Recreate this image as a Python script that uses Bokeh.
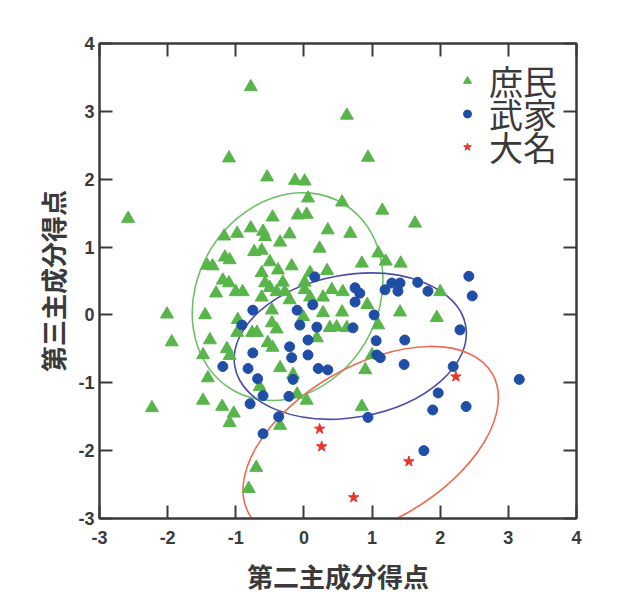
import math
from bokeh.plotting import figure
from bokeh.models import (Range1d, FixedTicker, LinearAxis, Legend, LegendItem,
                          CustomJSTickFormatter)
from bokeh.embed import file_html
from bokeh.resources import INLINE

# ---- data ----
commoner_x = [-2.58, -0.78, -1.10, -0.54, -0.13, 0.01, 0.06, 0.63, 0.94, 0.56,
              1.15, 1.63, -0.46, -0.09, 0.04, -0.78, -1.17, -0.98, -0.60, -0.57,
              -0.21, -0.35, 0.35, 0.68, 0.23, 1.09, 1.20, 1.42, 0.85, -1.42,
              -1.34, -1.16, -1.09, -0.73, -0.62, -0.50, -0.38, -0.18, -0.62, 0.34,
              0.09, -1.19, -1.10, -1.29, -1.00, -0.90, -0.57, -0.50, -0.40, -0.31,
              -0.62, 0.01, -0.28, 0.41, 0.57, 2.00, 0.93, 0.56, 1.41, 1.95,
              0.48, 0.63, 1.09, 1.00, 0.90, 0.85, -2.01, -1.94, -2.23, -1.45,
              -1.38, -1.48, -1.41, -1.48, -1.20, -1.03, -1.09, -0.97, -0.98, -0.76,
              -0.69, -0.47, -0.40, -0.53, -0.46, -0.35, -0.16, -0.65, 0.04, -0.10,
              -0.35, -0.70, -0.81, 0.01, 0.09, 0.28, -0.21, -0.01, 0.28, 0.38,
              -0.47, 0.19, -1.13, -1.09]
commoner_y = [1.42, 3.36, 2.31, 2.03, 1.98, 1.97, 1.72, 2.94, 2.32, 1.66,
              1.54, 1.35, 1.44, 1.47, 1.48, 1.28, 1.16, 1.20, 1.23, 1.15,
              1.19, 1.07, 1.25, 1.20, 0.98, 0.91, 0.79, 0.76, 0.76, 0.73,
              0.72, 0.85, 0.81, 0.93, 0.95, 0.78, 0.66, 0.72, 0.62, 0.65,
              0.62, 0.51, 0.47, 0.32, 0.34, 0.34, 0.47, 0.40, 0.34, 0.48,
              0.26, 0.37, 0.34, 0.37, 0.34, 0.34, 0.15, 0.04, 0.04, -0.04,
              -0.18, -0.19, -0.15, -0.59, -0.81, -1.35, 0.01, -0.40, -1.37, 0.00,
              -0.37, -0.59, -0.93, -1.26, -1.35, -1.45, -1.59, -0.07, -0.26, -0.26,
              -0.26, -0.12, -0.21, -0.41, -0.48, -0.78, -0.88, -1.06, -1.26, -1.17,
              -1.63, -2.25, -2.56, 0.48, 0.26, 0.26, 0.22, -0.03, 0.03, -0.19,
              0.07, -0.34, -0.50, -0.60]

samurai_x = [0.16, -0.75, -0.91, -0.10, 0.13, -0.06, 0.19, 0.06, -0.21, -0.18,
             -0.75, 0.06, -1.19, -0.82, -0.68, -0.16, 0.21, 0.35, -0.60, -0.79,
             -0.22, -0.37, -0.60, 0.75, 1.03, 0.72, 1.06, 1.07, 1.12, 1.48,
             1.47, 2.29, 2.19, 1.97, 1.89, 2.38, 0.94, 3.16, 1.76, 2.42,
             2.47, 1.67, 1.82, 1.41, 1.29, 1.19, 1.38, 0.75, 0.82]
samurai_y = [0.56, 0.07, -0.15, 0.07, 0.15, -0.15, -0.18, -0.37, -0.47, -0.63,
             -0.56, -0.59, -0.76, -0.79, -0.94, -0.95, -0.79, -0.81, -1.19, -1.31,
             -1.20, -1.50, -1.75, 0.19, 0.00, -0.19, -0.38, -0.59, -0.63, -0.37,
             -0.73, -0.22, -0.76, -1.15, -1.40, -1.35, -1.51, -0.95, -2.00, 0.57,
             0.28, 0.48, 0.35, 0.47, 0.47, 0.37, 0.35, 0.40, 0.32]

daimyo_x = [0.23, 0.26, 0.73, 1.54, 2.23]
daimyo_y = [-1.68, -1.94, -2.69, -2.16, -0.91]

# ellipses: centre, full width/height (data units), angle (degrees)
ell_cx = [-0.24, 0.68, 0.98]
ell_cy = [0.27, -0.46, -1.90]
ell_w = [3.18, 3.44, 4.12]
ell_h = [2.66, 2.10, 2.30]
ell_angle_deg = [59, 10, 30]
ell_color = ["#6cc068", "#4b4ea8", "#ef6a55"]

group_labels = ["庶民", "武家", "大名"]
ticks = [-3, -2, -1, 0, 1, 2, 3, 4]
x_title = "第二主成分得点"
y_title = "第三主成分得点"

GREEN = "#58b54a"
BLUE = "#1f4ea6"
RED = "#e8352b"
AXIS = "#3a3a3a"
CJK = "Noto Sans CJK JP"

p = figure(width=612, height=596, output_backend="svg", toolbar_location=None,
           x_range=Range1d(-3, 4), y_range=Range1d(-3, 4),
           min_border_left=99, min_border_top=43, min_border_right=36,
           min_border_bottom=75, background_fill_color="white",
           border_fill_color="white")
p.grid.visible = False
p.outline_line_color = AXIS
p.outline_line_width = 2

p.ellipse(x=ell_cx, y=ell_cy, width=ell_w, height=ell_h,
          angle=[math.radians(a) for a in ell_angle_deg],
          fill_color=None, line_color=ell_color, line_width=1.6)

r1 = p.scatter(commoner_x, commoner_y, marker="triangle", size=13,
               fill_color=GREEN, line_color=GREEN)
r2 = p.scatter(samurai_x, samurai_y, marker="circle", size=10,
               fill_color=BLUE, line_color=BLUE)
r3 = p.scatter(daimyo_x, daimyo_y, marker="star", size=11,
               fill_color=RED, line_color=RED)

plain = CustomJSTickFormatter(code="return String(tick)")
for ax in (p.xaxis[0], p.yaxis[0]):
    ax.ticker = FixedTicker(ticks=ticks)
    ax.formatter = plain
    ax.minor_tick_line_color = None
    ax.major_tick_in = 13
    ax.major_tick_out = 0
    ax.major_tick_line_width = 2
    ax.major_tick_line_color = AXIS
    ax.axis_line_width = 2
    ax.axis_line_color = AXIS
    ax.major_label_text_font = "Liberation Sans"
    ax.major_label_text_font_size = "18px"
    ax.major_label_text_font_style = "bold"
    ax.major_label_text_color = AXIS
    ax.axis_label_text_font = CJK
    ax.axis_label_text_font_size = "26px"
    ax.axis_label_text_font_style = "bold"
    ax.axis_label_text_color = AXIS

p.xaxis[0].axis_label = x_title
p.yaxis[0].axis_label = y_title
p.xaxis[0].major_label_standoff = 12
p.xaxis[0].axis_label_standoff = 10
p.yaxis[0].major_label_standoff = 5
p.yaxis[0].axis_label_standoff = 4

blank = CustomJSTickFormatter(code="return ''")
for loc in ("above", "right"):
    ax = LinearAxis(ticker=FixedTicker(ticks=ticks), formatter=blank)
    ax.minor_tick_line_color = None
    ax.major_tick_in = 13
    ax.major_tick_out = 0
    ax.major_tick_line_width = 2
    ax.major_tick_line_color = AXIS
    ax.axis_line_width = 2
    ax.axis_line_color = AXIS
    ax.major_label_text_font_size = "1px"
    p.add_layout(ax, loc)

# one single-entry legend per group so the rows can sit closer than the
# CJK font's line box would allow
legend_rows = [(r1, 413), (r2, 380), (r3, 347)]
for label, (rend, vy) in zip(group_labels, legend_rows):
    lg = Legend(items=[LegendItem(label=label, renderers=[rend])],
                location=(358, vy), border_line_color=None,
                background_fill_alpha=0, label_text_font=CJK,
                label_text_font_size="34px", label_text_color=AXIS,
                label_text_line_height=1.0,
                glyph_width=20, glyph_height=35, label_height=35,
                label_standoff=12, spacing=0, padding=9, margin=0)
    p.add_layout(lg)

open("out.html", "w").write(file_html(p, INLINE))
